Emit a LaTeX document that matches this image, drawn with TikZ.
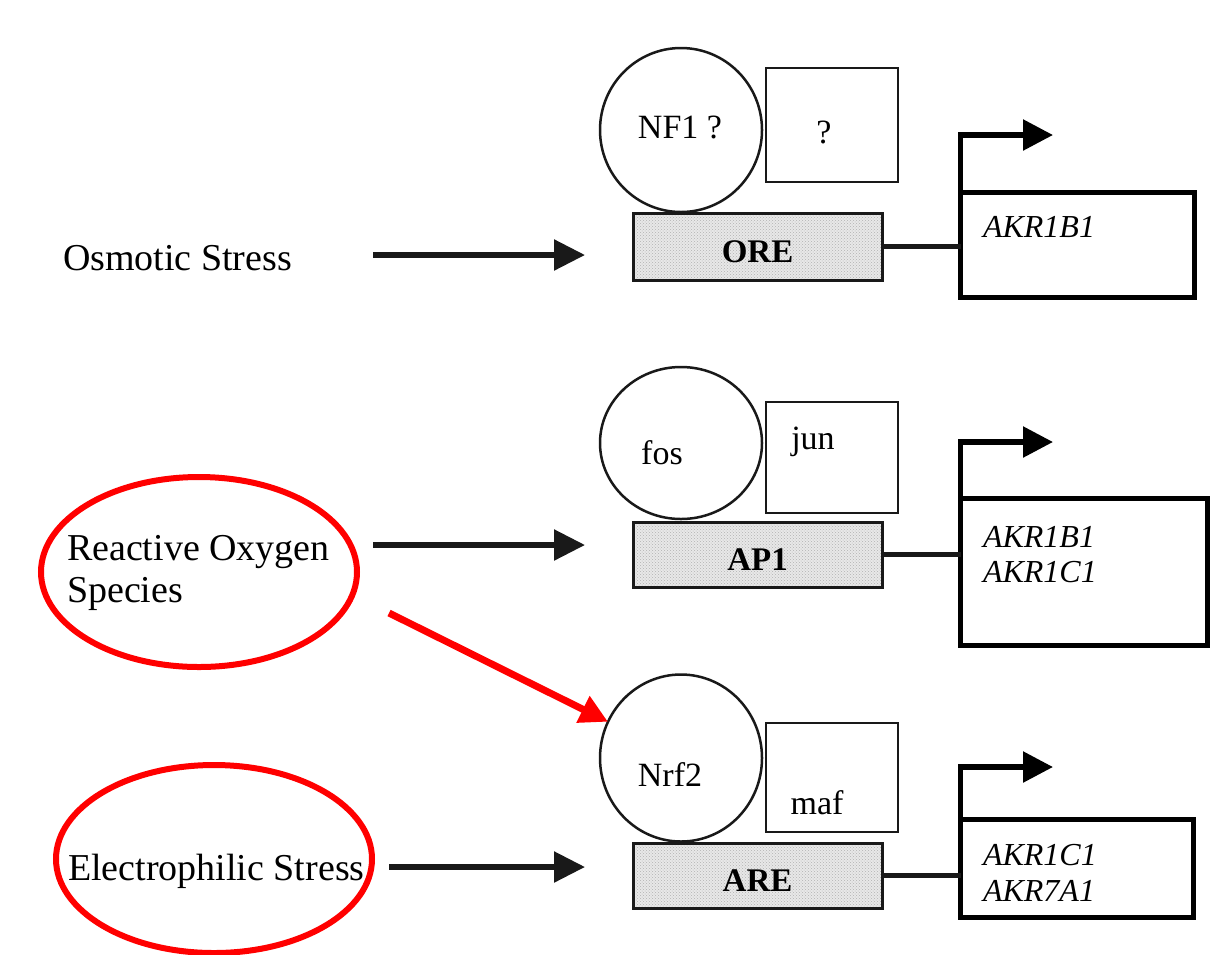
\documentclass[tikz,border=0pt]{standalone}
\usepackage{fontspec}
\setmainfont{Liberation Serif}
\usetikzlibrary{shapes.geometric,arrows.meta,patterns}
\begin{document}
\begin{tikzpicture}[x=1pt,y=-1pt,
  every node/.style={inner sep=0pt, outer sep=0pt},
  stim/.style={font=\fontsize{38}{42}\selectfont, anchor=base west},
  factor/.style={ellipse, draw=black!90, line width=2.5pt, minimum width=162pt},
  partner/.style={rectangle, draw=black!90, line width=2.5pt, minimum width=132pt},
  flabel/.style={font=\fontsize{34}{40}\selectfont},
  element/.style={rectangle, draw=black!90, line width=3pt, preaction={fill=gray!18},
    pattern=crosshatch dots, pattern color=gray!60,
    font=\bfseries\fontsize{33}{38}\selectfont, minimum width=249pt,
    text height=32pt, text depth=0pt},
  gene/.style={rectangle, draw=black, line width=5.5pt},
  gname/.style={font=\itshape\fontsize{32}{36}\selectfont, anchor=west},
  inarrow/.style={line width=5.5pt, draw=black!90, -{Triangle[length=31pt,width=30pt]}},
  link/.style={line width=5.5pt, draw=black!90},
  prom/.style={line width=5.5pt, draw=black, -{Triangle[length=30pt,width=30pt]}},
  hilite/.style={ellipse, draw=red, line width=6pt},
  redarrow/.style={line width=7pt, draw=red, -{Triangle[length=28pt,width=28pt]}},
]
\useasboundingbox (0,0) rectangle (1214,954);
\fill[white] (0,0) rectangle (1214,954);

% ---------- Row 1 : osmotic stress ----------
\node[stim] (osm) at (63,270) {Osmotic Stress};
\coordinate (a1s) at (373,255);
\coordinate (a1e) at (585,255);
\draw[inarrow] (a1s) -- (a1e);

\node[factor, minimum height=164pt] (nf1) at (681,130) {};
\node[flabel] (nf1t) at (680,127) {NF1 ?};
\node[partner, minimum height=114pt] (q1) at (832,125) {};
\node[flabel] (q1t) at (824,132) {?};
\node[element, minimum height=67pt] (ore) at (757.5,246.5) {ORE};
\node[gene, minimum width=234pt, minimum height=105pt] (g1) at (1077.5,245) {};
\node[gname] (g1a) at (983,227) {AKR1B1};
\draw[link] (ore.east) -- (ore.east -| g1.west);
\draw[prom] (g1.north west) -- ++(0,-57.5) -- ++(92.5,0);

% ---------- Row 2 : reactive oxygen species ----------
\node[stim] (ros1) at (67,560) {Reactive Oxygen};
\node[stim] (ros2) at (67,602) {Species};
\node[hilite, minimum width=316pt, minimum height=190pt] (hl1) at (199,572) {};
\coordinate (a2s) at (373,545);
\coordinate (a2e) at (585,545);
\draw[inarrow] (a2s) -- (a2e);

\node[factor, minimum height=152pt] (fos) at (681,443) {};
\node[flabel] (fost) at (662,453) {fos};
\node[partner, minimum height=111pt] (jun) at (832,457.5) {};
\node[flabel] (junt) at (813,442) {jun};
\node[element, minimum height=65pt] (ap1) at (757.5,554.5) {AP1};
\node[gene, minimum width=247pt, minimum height=147pt] (g2) at (1084,572) {};
\node[gname] (g2a) at (983,537) {AKR1B1};
\node[gname] (g2b) at (983,572) {AKR1C1};
\draw[link] (ap1.east) -- (ap1.east -| g2.west);
\draw[prom] (g2.north west) -- ++(0,-56.5) -- ++(92.5,0);

% ---------- Row 3 : electrophilic stress ----------
\node[stim] (els) at (68,880) {Electrophilic Stress};
\node[hilite, minimum width=316pt, minimum height=188pt] (hl2) at (214,859) {};
\coordinate (a3s) at (389,867);
\coordinate (a3e) at (585,867);
\draw[inarrow] (a3s) -- (a3e);

\node[factor, minimum height=167pt] (nrf2) at (681,758) {};
\node[flabel] (nrf2t) at (670,775) {Nrf2};
\node[partner, minimum height=109pt] (maf) at (832,777.5) {};
\node[flabel] (maft) at (817,803) {maf};
\node[element, minimum height=65pt] (are) at (757.5,875.5) {ARE};
\node[gene, minimum width=233pt, minimum height=98pt] (g3) at (1077,868.5) {};
\node[gname] (g3a) at (983,855) {AKR1C1};
\node[gname] (g3b) at (983,891) {AKR7A1};
\draw[link] (are.east) -- (are.east -| g3.west);
\draw[prom] (g3.north west) -- ++(0,-52.5) -- ++(92.5,0);

% ---------- red highlight arrow ----------
\coordinate (rs) at (389,613);
\draw[redarrow] (rs) -- (nrf2);
\end{tikzpicture}
\end{document}
